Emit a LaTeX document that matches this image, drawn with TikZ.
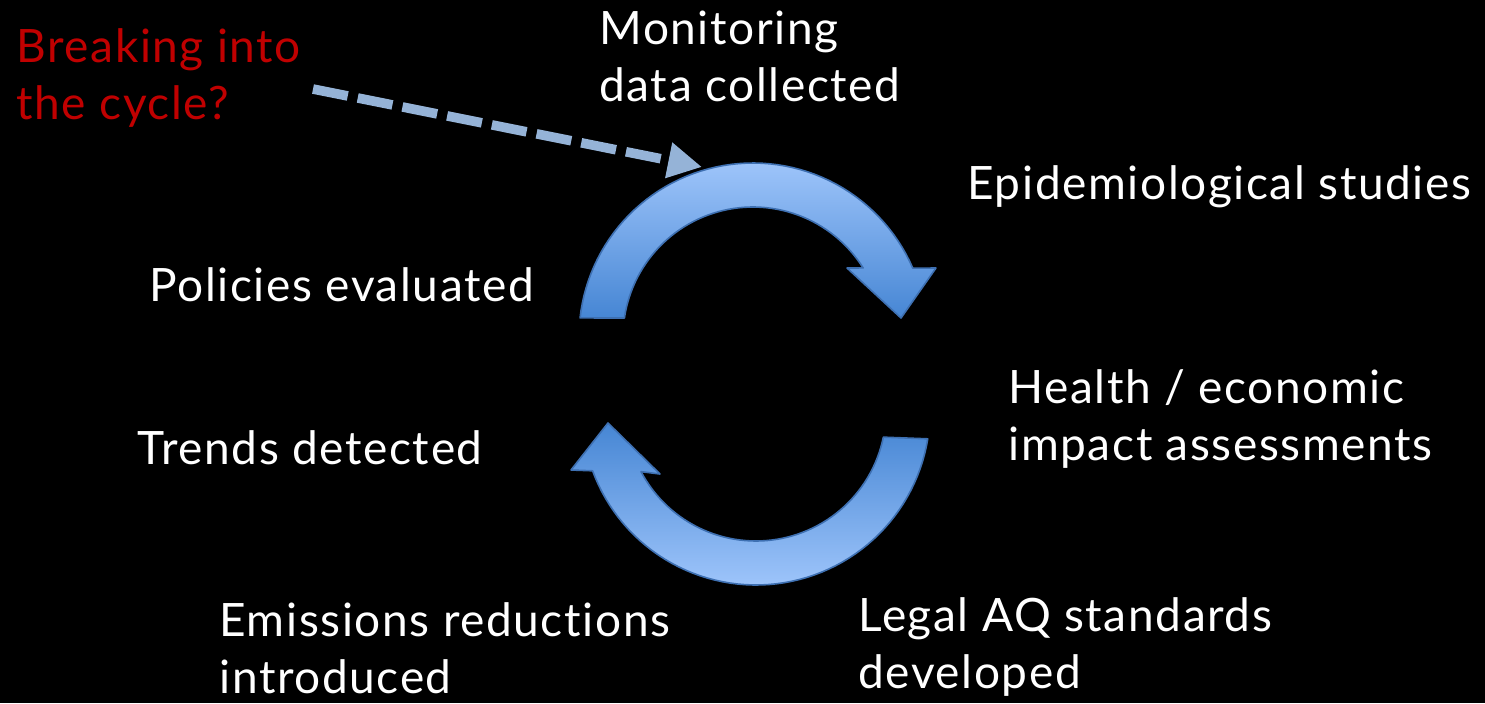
\documentclass[tikz,border=0pt]{standalone}
\usepackage{fontspec}
\setmainfont[LetterSpace=3.5, Ligatures=CommonOff]{Lato}
\usetikzlibrary{arrows.meta}

\definecolor{arcedge}{RGB}{62,112,178}
\definecolor{arclight}{RGB}{157,196,250}
\definecolor{arcdark}{RGB}{70,134,212}
\definecolor{dashblue}{RGB}{149,179,215}
\definecolor{cyclered}{RGB}{192,0,0}

\begin{document}
\begin{tikzpicture}
  [x=0.5pt, y=-0.5pt,
   lbl/.style={anchor=base west, inner sep=0, text=white, align=left,
     font=\fontsize{23}{28.5}\selectfont},
   arcarrow/.style={draw=arcedge, line width=0.8pt, line join=round}]

  % black slide
  \fill[black] (0,0) rectangle (1485,703);
  \useasboundingbox (0,0) rectangle (1485,703);

  % upper arrow, turning clockwise
  \shadedraw[arcarrow, top color=arclight, bottom color=arcdark]
    plot[domain=186.3:336.7, samples=60] ({753+174*cos(\x)}, {337+174*sin(\x)})
    -- (936,268) -- (901,318) -- (847,268)
    -- plot[domain=327.9:188.4, samples=60] ({753+130*cos(\x)}, {337+130*sin(\x)})
    -- cycle;

  % lower arrow
  \shadedraw[arcarrow, top color=arcdark, bottom color=arclight]
    plot[domain=9.2:159.9, samples=60] ({756+174*cos(\x)}, {411+174*sin(\x)})
    -- (571,470) -- (608,423) -- (660,474)
    -- plot[domain=152.2:11.6, samples=60] ({756+130*cos(\x)}, {411+130*sin(\x)})
    -- cycle;

  % stages of the cycle (two-line ones sit on their last baseline)
  \node[lbl] (mon) at (599,101) {Monitoring\\data collected};
  \node[lbl] (epi) at (967,199) {Epidemiological studies};
  \node[lbl] (hea) at (1008,460) {Health / economic\\impact assessments};
  \node[lbl] (leg) at (858,688) {Legal AQ standards\\developed};
  \node[lbl] (emi) at (219,693) {Emissions reductions\\introduced};
  \node[lbl] (tre) at (137,464) {Trends detected};
  \node[lbl] (pol) at (149,301) {Policies evaluated};

  % question, with the way in
  \node[lbl, text=cyclered] (brk) at (16,119) {Breaking into\\the cycle?};
  \coordinate (from) at (313,89);
  \coordinate (into) at (702,167);
  \draw[dashblue, line width=4.8pt, dash pattern=on 17.7pt off 5.1pt,
    -{Triangle[length=17pt, width=17pt]}] (from) -- (into);
\end{tikzpicture}
\end{document}
